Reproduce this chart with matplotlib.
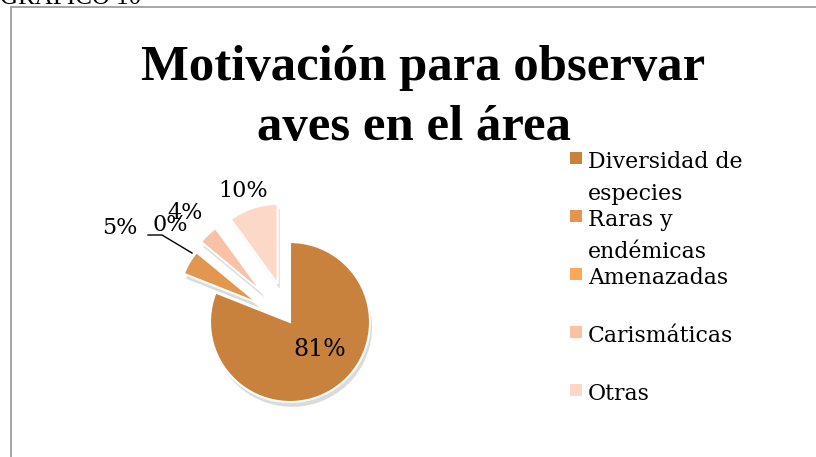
import matplotlib
matplotlib.use("Agg")
import matplotlib.pyplot as plt
from matplotlib.patches import Rectangle

# ---- data ----
categories = ["Diversidad de\nespecies", "Raras y\nendémicas", "Amenazadas", "Carismáticas", "Otras"]
values = [81, 5, 0, 4, 10]
colors = ["#C8823E", "#E2964F", "#FAA75A", "#F9C2A6", "#FCD8C9"]
title_text = "Motivación para observar\naves en el área"
header_text = "GRÁFICO 10"

W, H = 816, 457
fig = plt.figure(figsize=(W / 100, H / 100), dpi=100)
ax = fig.add_axes([0, 0, 1, 1])
ax.set_xlim(0, W)
ax.set_ylim(0, H)
ax.set_aspect("equal")
ax.axis("off")


def Y(y):
    return H - y


SERIF = ["DejaVu Serif"]
TITLE_FONT = ["Liberation Serif", "DejaVu Serif"]

# frame lines
ax.plot([10.5, 10.5], [Y(7), Y(460)], color="#A6A6A6", lw=1.4, solid_capstyle="butt")
ax.plot([10, W + 2], [Y(7), Y(7)], color="#A6A6A6", lw=1.4, solid_capstyle="butt")

# header (cut at top)
ax.text(0, Y(4), header_text, family=TITLE_FONT, fontsize=18, va="baseline", ha="left")

# title
tl = title_text.split("\n")
ax.text(423, Y(80), tl[0], family=TITLE_FONT, fontweight="bold", fontsize=36.5,
        ha="center", va="baseline")
ax.text(414, Y(140), tl[1], family=TITLE_FONT, fontweight="bold", fontsize=36.5,
        ha="center", va="baseline")

# pie
R = 80
explode = [0, 37, 40, 40, 40]
wedges, _ = ax.pie(values, colors=colors, startangle=90, counterclock=False,
                   radius=R, center=(290, Y(322)), explode=explode,
                   wedgeprops=dict(edgecolor="white", linewidth=1.5),
                   shadow=dict(ox=1.5, oy=-3.5, facecolor="#9a9a9a", edgecolor="none",
                               alpha=0.35),
                   frame=True)
ax.set_xlim(0, W)
ax.set_ylim(0, H)
ax.axis("off")

# percentage labels
label_pos = [(320, 350), (120, 228), (170, 225), (185, 213), (243, 191)]
label_size = [17, 16, 16, 16, 16]
for v, (lx, ly), fs in zip(values, label_pos, label_size):
    ax.text(lx, Y(ly), f"{v}%", family=SERIF, fontsize=fs, ha="center", va="center")

# leader line for the 0% label
ax.plot([148, 162, 192], [Y(235), Y(235), Y(253)], color="black", lw=1.0)

# legend (manual)
base0, step, line_gap = 168, 58, 32
for i, (lab, col) in enumerate(zip(categories, colors)):
    b = base0 + step * i
    ax.add_patch(Rectangle((570, Y(b - 4)), 12, 12, facecolor=col, edgecolor="none"))
    for j, line in enumerate(lab.split("\n")):
        ax.text(588, Y(b + line_gap * j), line, family=SERIF, fontsize=15.8,
                ha="left", va="baseline")

fig.savefig("out.png", dpi=100)
